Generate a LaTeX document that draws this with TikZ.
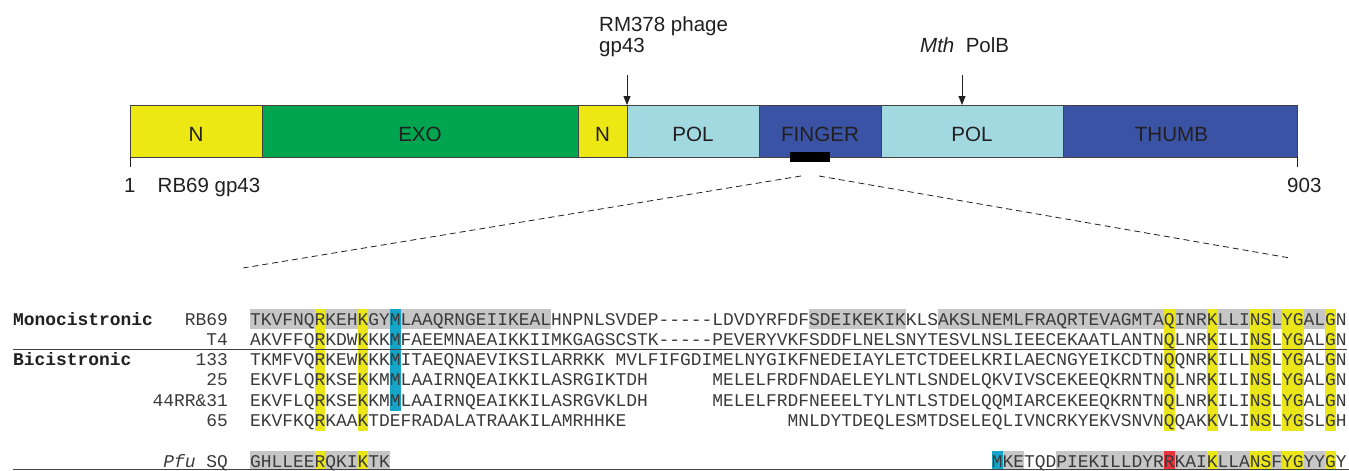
\documentclass[tikz,border=0pt]{standalone}
\usepackage{fontspec}
\setmainfont{Liberation Sans}
\newfontfamily\monof{Liberation Mono}
\usetikzlibrary{arrows.meta}
\definecolor{nyel}{HTML}{EDE813}
\definecolor{exog}{HTML}{00A54F}
\definecolor{polb}{HTML}{A2D9E0}
\definecolor{fingb}{HTML}{3A53A4}
\definecolor{hgray}{HTML}{C6C6C6}
\definecolor{hyel}{HTML}{EAE61A}
\definecolor{hcyan}{HTML}{14A5C8}
\definecolor{hred}{HTML}{E8323C}
\definecolor{txt}{HTML}{231F20}
\definecolor{seqtxt}{HTML}{3A3A3A}
% highlight: colour, first col, last col, top y, bottom y
\newcommand{\hlcol}[5]{\fill[#1] ({250+(#2-1)*10.75},#4) rectangle ({250+#3*10.75},#5);}
\begin{document}
\begin{tikzpicture}[x=1pt,y=-1pt,
  seg/.style={draw=txt!85, line width=0.8pt, minimum height=52pt, inner sep=0pt, outer sep=0pt, anchor=north west},
  seglbl/.style={font=\fontsize{20.6}{24}\selectfont, text=txt, anchor=base, inner sep=0pt},
  toplbl/.style={font=\fontsize{20.5}{24}\selectfont, text=txt, anchor=base west, inner sep=0pt},
  arr/.style={line width=0.9pt, draw=txt, -{Triangle[length=9pt,width=7pt]}},
  seq/.style={font=\monof\fontsize{17.917}{20}\selectfont, text=seqtxt, anchor=base west, inner sep=0pt},
  seqname/.style={font=\monof\fontsize{17.917}{20}\selectfont, text=seqtxt, anchor=base east, inner sep=0pt},
  grp/.style={font=\monof\bfseries\fontsize{17.917}{20}\selectfont, text=txt, anchor=base west, inner sep=0pt},
  dsh/.style={dashed, dash pattern=on 6pt off 4pt, line width=0.8pt, draw=txt}
]
\useasboundingbox (0,0) rectangle (1349,471);
\fill[white] (0,0) rectangle (1349,471);

% ---- domain bar ----
\node[seg, fill=nyel,  minimum width=132pt] (n1)    at (130,105) {};
\node[seg, fill=exog,  minimum width=316pt] (exo)   at (262,105) {};
\node[seg, fill=nyel,  minimum width=49pt]  (n2)    at (578,105) {};
\node[seg, fill=polb,  minimum width=132pt] (pol1)  at (627,105) {};
\node[seg, fill=fingb, minimum width=122pt] (fing)  at (759,105) {};
\node[seg, fill=polb,  minimum width=182pt] (pol2)  at (881,105) {};
\node[seg, fill=fingb, minimum width=234pt] (thumb) at (1063,105) {};

\node[seglbl] (ln1)   at (196,141)    {N};
\node[seglbl] (lexo)  at (420,141)    {EXO};
\node[seglbl] (ln2)   at (602.5,141)  {N};
\node[seglbl] (lpol1) at (693,141)    {POL};
\node[seglbl] (lfing) at (820,141)    {FINGER};
\node[seglbl] (lpol2) at (972,141)    {POL};
\node[seglbl] (lthm)  at (1171.5,141) {THUMB};

% ticks and numbers
\draw[line width=0.8pt, txt] (n1.south west) -- ++(0,10);
\draw[line width=0.8pt, txt] (thumb.south east) -- ++(0,10);
\node[toplbl] (one)  at (124,192)  {1};
\node[toplbl] (rb)   at (157.5,192) {RB69 gp43};
\node[toplbl] (end)  at (1287,192) {903};

% top labels and arrows
\node[toplbl] (rm1) at (599,31)   {RM378 phage};
\node[toplbl] (rm2) at (599,52.5) {gp43};
\node[toplbl] (mth) at (920,52.5) {\textit{Mth}\ \ PolB};
\coordinate (a1) at (627,75);
\coordinate (a2) at (962,75);
\draw[arr] (a1) -- (pol1.north west);
\draw[arr] (a2) -- (a2 |- pol2.north);

% black marker and dashed zoom lines
\node[fill=black, minimum width=40pt, minimum height=10pt, inner sep=0pt] (blk) at (810,157) {};
\coordinate (d1) at (801,176);
\coordinate (d2) at (819,176);
\coordinate (dl) at (243,268);
\coordinate (dr) at (1290,258);
\draw[dsh] (d1) -- (dl);
\draw[dsh] (d2) -- (dr);

% ---- highlights ----
% RB69 grey
\hlcol{hgray}{1}{28}{309}{329}
\hlcol{hgray}{53}{61}{309}{329}
\hlcol{hgray}{65}{101}{309}{329}
% yellow columns rows 1-6
\foreach \a/\b in {7/7,11/11,86/86,90/90,94/95,97/98,101/101}{\hlcol{hyel}{\a}{\b}{309}{431}}
% cyan column rows 1-5
\hlcol{hcyan}{14}{14}{309}{410.5}
% Pfu row
\hlcol{hgray}{1}{13}{451}{470}
\hlcol{hgray}{71}{72}{451}{470}
\hlcol{hgray}{76}{101}{451}{470}
\foreach \a/\b in {7/7,11/11,90/90,94/95,97/98,101/101}{\hlcol{hyel}{\a}{\b}{451}{470}}
\hlcol{hcyan}{70}{70}{451}{470}
\hlcol{hred}{86}{86}{451}{470}

% ---- alignment text ----
\node[grp] (mono) at (13,325)   {Monocistronic};
\node[grp] (bici) at (13,365.6) {Bicistronic};

\node[seqname] (nRB) at (228,325)   {RB69};
\node[seqname] (nT4) at (228,345.3) {T4};
\node[seqname] (n133) at (228,365.6) {133};
\node[seqname] (n25) at (228,385.9) {25};
\node[seqname] (n44) at (228,406.2) {44RR\&31};
\node[seqname] (n65) at (228,426.5) {65};
\node[seqname] (nPfu) at (228,467)  {\textit{Pfu} SQ};

\node[seq] (sRB) at (250,325)   {TKVFNQRKEHKGYMLAAQRNGEIIKEALHNPNLSVDEP-----LDVDYRFDFSDEIKEKIKKLSAKSLNEMLFRAQRTEVAGMTAQINRKLLINSLYGALGN};
\node[seq] (sT4) at (250,345.3) {AKVFFQRKDWKKKMFAEEMNAEAIKKIIMKGAGSCSTK-----PEVERYVKFSDDFLNELSNYTESVLNSLIEECEKAATLANTNQLNRKILINSLYGALGN};
\node[seq] (s133a) at (250,365.6) {TKMFVQRKEWKKKMITAEQNAEVIKSILARRKK};
\node[seq] (s133b) at ({250+34*10.75},365.6) {MVLFIFGDIMELNYGIKFNEDEIAYLETCTDEELKRILAECNGYEIKCDTNQQNRKILLNSLYGALGN};
\node[seq] (s25a) at (250,385.9) {EKVFLQRKSEKKMMLAAIRNQEAIKKILASRGIKTDH};
\node[seq] (s25b) at ({250+43*10.75},385.9) {MELELFRDFNDAELEYLNTLSNDELQKVIVSCEKEEQKRNTNQLNRKILINSLYGALGN};
\node[seq] (s44a) at (250,406.2) {EKVFLQRKSEKKMMLAAIRNQEAIKKILASRGVKLDH};
\node[seq] (s44b) at ({250+43*10.75},406.2) {MELELFRDFNEEELTYLNTLSTDELQQMIARCEKEEQKRNTNQLNRKILINSLYGALGN};
\node[seq] (s65a) at (250,426.5) {EKVFKQRKAAKTDEFRADALATRAAKILAMRHHKE};
\node[seq] (s65b) at ({250+50*10.75},426.5) {MNLDYTDEQLESMTDSELEQLIVNCRKYEKVSNVNQQAKKVLINSLYGSLGH};
\node[seq] (sPa) at (250,467) {GHLLEERQKIKTK};
\node[seq] (sPb) at ({250+69*10.75},467) {MKETQDPIEKILLDYRRKAIKLLANSFYGYYGY};

% rules
\draw[line width=1.1pt, txt!85] (13,349.5) -- (1347,349.5);
\draw[line width=1.1pt, txt!85] (13,469.8) -- (1349,469.8);
\end{tikzpicture}
\end{document}
